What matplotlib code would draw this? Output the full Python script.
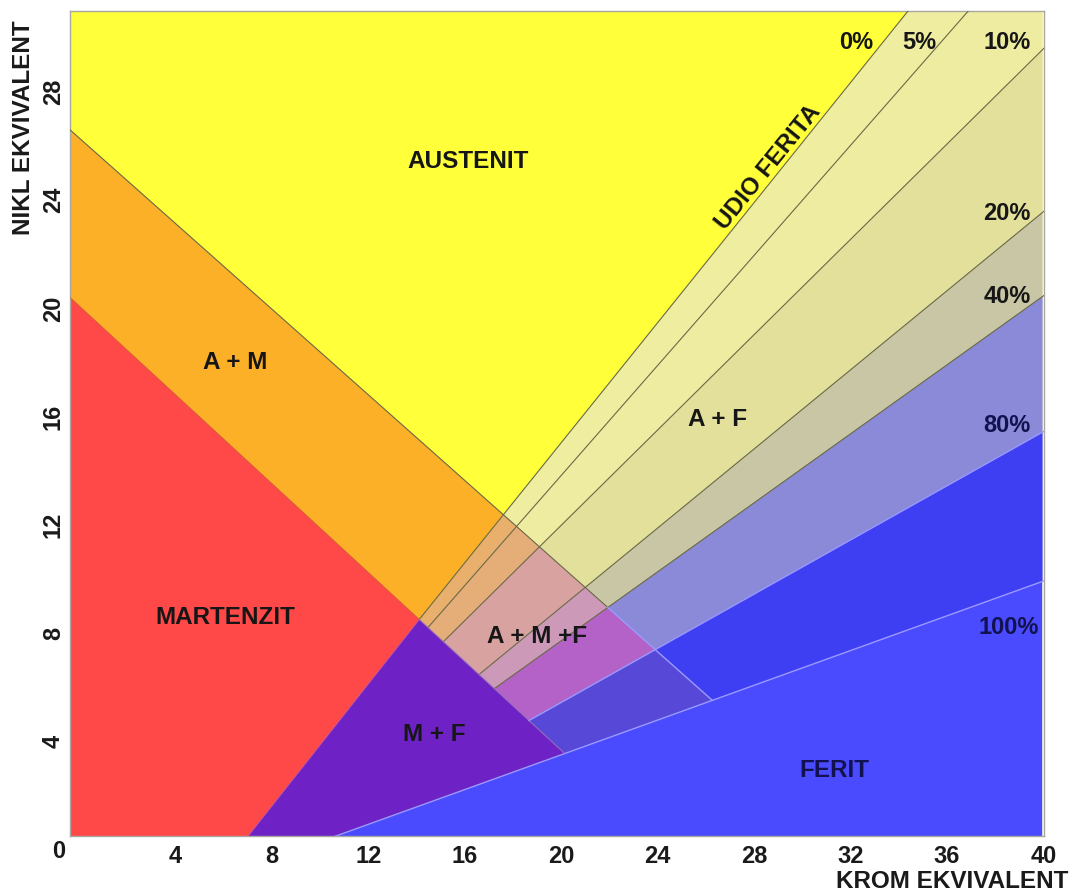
import matplotlib
matplotlib.use("Agg")
import matplotlib.pyplot as plt
from matplotlib.patches import Polygon

plt.rcParams['font.family'] = ['Liberation Sans', 'DejaVu Sans']
plt.rcParams['font.weight'] = 'bold'

# axes (chromium / nickel equivalent)
cr_ticks = [4, 8, 12, 16, 20, 24, 28, 32, 36, 40]
ni_ticks = [4, 8, 12, 16, 20, 24, 28]
cr_range = (-0.35, 39.95)
ni_range = (0.5, 30.98)

# phase boundaries, each as two (Cr, Ni) points
am_upper = [(0.0, 26.3), (26.3, 5.5)]   # austenite / A+M
am_lower = [(0.0, 20.1), (20.1, 3.6)]   # A+M / martensite
m_mf = [(7.0, 0.5), (14.1, 8.5)]        # martensite / M+F

# ferrite iso-lines
ferrite_pct = ['0%', '5%', '10%', '20%', '40%', '80%', '100%']
ferrite_p1 = [(14.1, 8.5), (18.1, 11.9), (19.1, 11.2), (21.0, 9.7),
              (22.0, 9.0), (23.9, 7.4), (10.6, 0.5)]
ferrite_p2 = [(34.4, 31.0), (36.9, 31.0), (39.9, 29.5), (39.9, 23.5),
              (39.9, 20.4), (39.9, 15.4), (39.9, 9.9)]

regions = ['AUSTENIT', 'A + M', 'MARTENZIT', 'A + F', 'A + M +F', 'M + F', 'FERIT']

# colours
c_a = '#ffff3a'
c_am = '#fbb027'
c_m = '#ff4848'
c_mf = '#6e22c6'
c_f = '#4a4aff'
band_colors = ['#efeea0', '#eeeca0', '#e3e09c', '#c8c6a4', '#8a8ad8', '#3e3ef2']
overlay_colors = ['#e8b06c', '#e5ad78', '#d8a2a0', '#cc9ab8', '#b462c8', '#5848d8']


def clip(poly, line, above):
    (x1, y1), (x2, y2) = line
    s = 1 if above else -1

    def f(p):
        return s * ((p[1] - y1) * (x2 - x1) - (p[0] - x1) * (y2 - y1))

    out = []
    n = len(poly)
    for i in range(n):
        p, q = poly[i], poly[(i + 1) % n]
        fp, fq = f(p), f(q)
        if fp >= 0:
            out.append(p)
        if (fp >= 0) != (fq >= 0):
            t = fp / (fp - fq)
            out.append((p[0] + t * (q[0] - p[0]), p[1] + t * (q[1] - p[1])))
    return out


def region(*conds):
    poly = [(cr_range[0], ni_range[0]), (cr_range[1], ni_range[0]),
            (cr_range[1], ni_range[1]), (cr_range[0], ni_range[1])]
    for line, above in conds:
        poly = clip(poly, line, above)
    return poly


def fill(ax, poly, color, z=1):
    if len(poly) > 2:
        ax.add_patch(Polygon(poly, closed=True, facecolor=color,
                             edgecolor=color, lw=0.3, zorder=z))


fig = plt.figure(figsize=(10.75, 8.94), dpi=100)
ax = fig.add_axes([0.06558, 0.06432, 0.90512, 0.92338])
ax.set_xlim(cr_range)
ax.set_ylim(ni_range)

flines = list(zip(ferrite_p1, ferrite_p2))

fill(ax, region(), c_a, 0)
for k in range(6):
    band = [(flines[k], False), (flines[k + 1], True), (am_lower, True)]
    fill(ax, region(*band, (am_upper, True)), band_colors[k])
    fill(ax, region(*band, (am_upper, False)), overlay_colors[k])
fill(ax, region((flines[6], False)), c_f)
fill(ax, region((am_upper, False), (am_lower, True), (flines[0], True)), c_am)
fill(ax, region((am_lower, False), (m_mf, True)), c_m)
fill(ax, region((am_lower, False), (m_mf, False), (flines[6], True)), c_mf)


def seg(line, x0, x1, **kw):
    (xa, ya), (xb, yb) = line
    m = (yb - ya) / (xb - xa)
    ax.plot([x0, x1], [ya + m * (x0 - xa), ya + m * (x1 - xa)], **kw)


def cross(l1, l2):
    (a1, b1), (a2, b2) = l1
    (c1, d1), (c2, d2) = l2
    m1 = (b2 - b1) / (a2 - a1)
    m2 = (d2 - d1) / (c2 - c1)
    return (d1 - b1 + m1 * a1 - m2 * c1) / (m1 - m2)


dark = dict(color='#6a6a48', lw=0.8, zorder=3)
light = dict(color='#9a9aff', lw=1.0, zorder=3)
for k in range(6):
    x0 = cross(flines[k], am_lower)
    seg(flines[k], x0, 45, **(dark if k < 5 else light))
seg(flines[6], 0, 45, **light)
x_split = cross(am_upper, flines[4])
seg(am_upper, -1, x_split, **dark)
seg(am_upper, x_split, cross(am_upper, flines[6]), **light)
seg(am_lower, -1, cross(am_lower, flines[0]), color='#c06030', lw=0.7, alpha=0.6, zorder=3)
seg(am_lower, cross(am_lower, flines[0]), cross(am_lower, flines[6]),
    color='#a080c0', lw=0.8, alpha=0.7, zorder=3)
seg(m_mf, 0, cross(m_mf, am_lower), color='#e06090', lw=0.8, alpha=0.7, zorder=3)

# labels
txt = dict(fontsize=17.5, fontweight='bold', ha='center', va='center', zorder=5)
dark_txt = '#161616'
navy_txt = '#121250'
ax.text(16.14, 25.44, regions[0], color=dark_txt, **txt)
ax.text(6.46, 17.99, regions[1], color=dark_txt, **txt)
ax.text(6.05, 8.60, regions[2], color=dark_txt, **txt)
ax.text(26.47, 15.88, regions[3], color=dark_txt, **txt)
ax.text(18.99, 7.88, regions[4], color=dark_txt, **txt)
ax.text(14.75, 4.25, regions[5], color=dark_txt, **txt)
ax.text(31.32, 2.95, regions[6], color=navy_txt, **txt)
ax.text(28.6, 25.2, 'UDIO FERITA', rotation=51, color=dark_txt, **txt)

pct_txt = dict(txt, fontsize=17)
pct_pos = [(32.23, 29.8), (34.84, 29.8), (38.48, 29.8), (38.48, 23.52),
           (38.48, 20.42), (38.48, 15.69), (38.57, 8.2)]
for lab, (px, py) in zip(ferrite_pct, pct_pos):
    ax.text(px, py, lab, color=dark_txt if lab not in ('80%', '100%') else navy_txt, **pct_txt)

ax.set_xticks(cr_ticks)
ax.set_xticklabels([str(v) for v in cr_ticks])
ax.set_yticks(ni_ticks)
ax.set_yticklabels([str(v) for v in ni_ticks])
ax.tick_params(axis='x', length=0, pad=6, labelsize=17, colors='#1a1a1a')
ax.tick_params(axis='y', length=0, pad=4, labelsize=17, labelrotation=90, colors='#1a1a1a')
for lab in ax.get_yticklabels():
    lab.set_va('center')
for sp in ax.spines.values():
    sp.set_color('#a8a8a0')
    sp.set_linewidth(1.0)

fig.text(59 / 1075, 1 - 851.5 / 894, '0', fontsize=17, fontweight='bold',
         ha='center', va='center', color='#1a1a1a')
fig.text(24 / 1075, 1 - 128 / 894, 'NIKL EKVIVALENT', rotation=90, fontsize=17.5,
         fontweight='bold', ha='center', va='center', color='#1a1a1a')
fig.text(1068 / 1075, 1 - 882 / 894, 'KROM EKVIVALENT', fontsize=17.5,
         fontweight='bold', ha='right', va='center', color='#1a1a1a')

fig.savefig('out.png', dpi=100)
